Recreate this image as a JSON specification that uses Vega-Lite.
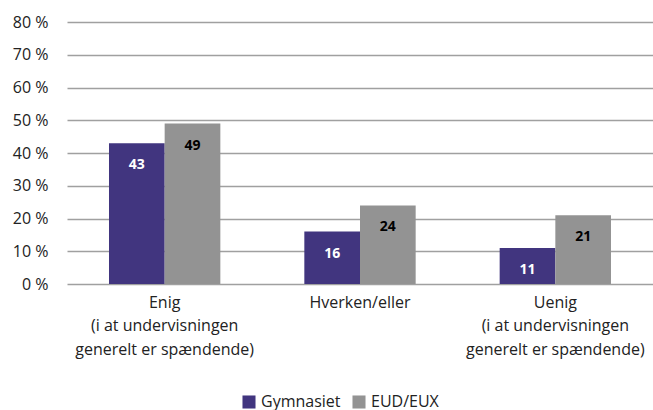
{
  "$schema": "https://vega.github.io/schema/vega-lite/v6.json",
  "width": 586,
  "height": 262,
  "autosize": {"type": "none"},
  "padding": {"left": 67, "top": 22, "right": 0, "bottom": 126},
  "background": "white",
  "config": {
    "view": {"stroke": null},
    "font": "Open Sans"
  },
  "data": {
    "values": [
      {"kategori": "Enig|(i at undervisningen|generelt er spændende)", "gruppe": "Gymnasiet", "andel": 43},
      {"kategori": "Enig|(i at undervisningen|generelt er spændende)", "gruppe": "EUD/EUX", "andel": 49},
      {"kategori": "Hverken/eller", "gruppe": "Gymnasiet", "andel": 16},
      {"kategori": "Hverken/eller", "gruppe": "EUD/EUX", "andel": 24},
      {"kategori": "Uenig|(i at undervisningen|generelt er spændende)", "gruppe": "Gymnasiet", "andel": 11},
      {"kategori": "Uenig|(i at undervisningen|generelt er spændende)", "gruppe": "EUD/EUX", "andel": 21}
    ]
  },
  "encoding": {
    "x": {
      "field": "kategori", "type": "nominal", "sort": null,
      "scale": {"paddingInner": 0.43, "paddingOuter": 0.215},
      "axis": {
        "title": null, "labelAngle": 0, "ticks": false, "domain": false,
        "labelExpr": "split(datum.label, '|')",
        "labelFontSize": 16, "labelColor": "#222222", "labelPadding": 10,
        "labelLineHeight": 23.5, "labelBaseline": "top"
      }
    },
    "xOffset": {"field": "gruppe", "type": "nominal", "sort": ["Gymnasiet", "EUD/EUX"]},
    "y": {
      "field": "andel", "type": "quantitative",
      "scale": {"domain": [0, 80]},
      "axis": {
        "title": null, "values": [0, 10, 20, 30, 40, 50, 60, 70, 80],
        "labelExpr": "datum.value + ' %'",
        "ticks": false, "domain": false, "labelOverlap": false,
        "gridColor": "#a0a0a0", "gridWidth": 1.5,
        "labelFontSize": 16, "labelColor": "#222222", "labelPadding": 19
      }
    }
  },
  "layer": [
    {
      "mark": {"type": "bar"},
      "encoding": {
        "color": {
          "field": "gruppe", "type": "nominal",
          "scale": {"domain": ["Gymnasiet", "EUD/EUX"], "range": ["#41357f", "#939393"]},
          "legend": {
            "title": null, "orient": "none", "direction": "horizontal",
            "legendX": 174, "legendY": 372,
            "symbolType": "square", "symbolSize": 170, "symbolStrokeWidth": 0,
            "labelFontSize": 16, "labelColor": "#222222", "columnPadding": 10,
            "labelOffset": 4
          }
        }
      }
    },
    {
      "mark": {"type": "text", "fontWeight": "bold", "fontSize": 14, "baseline": "middle", "dy": 22},
      "encoding": {
        "text": {"field": "andel", "type": "quantitative"},
        "color": {
          "condition": {"test": "datum.gruppe === 'Gymnasiet'", "value": "white"},
          "value": "black"
        }
      }
    }
  ]
}
